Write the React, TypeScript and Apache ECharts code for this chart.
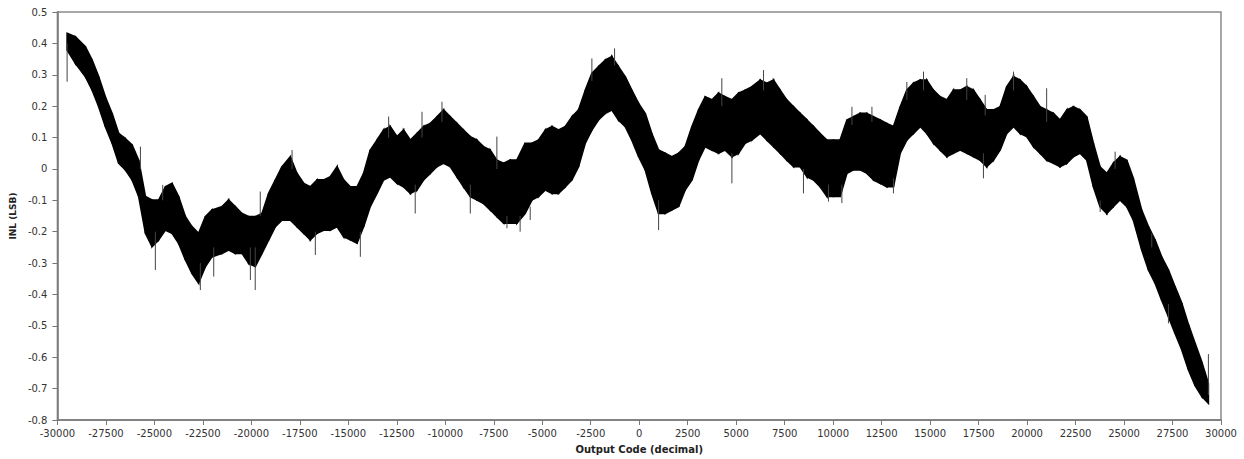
import React, { useEffect, useRef } from "react";
import * as echarts from "echarts";

// Output code (decimal) at which the INL band was read
const codes = [
  -29500, -29070, -28560, -28210, -27870, -27530, -27180, -26840, -26500, -26150,
  -25810, -25460, -25120, -24780, -24430, -24090, -23750, -23400, -23060, -22720,
  -22370, -22030, -21510, -21170, -20830, -20480, -20140, -19800, -19450, -19110,
  -18760, -18420, -17990, -17650, -17300, -16960, -16610, -16270, -15930, -15580,
  -15240, -14900, -14550, -14210, -13870, -13520, -13180, -12840, -12490, -12150,
  -11800, -11460, -11120, -10770, -10430, -10090, -9740, -9400, -9060, -8710,
  -8370, -8030, -7680, -7340, -6990, -6650, -6310, -5880, -5530, -5190,
  -4840, -4500, -4160, -3810, -3470, -3130, -2780, -2440, -2100, -1750,
  -1410, -1070, -720, -380, -30, 310, 650, 1000, 1340, 1680,
  2030, 2370, 2720, 3060, 3400, 3750, 4090, 4430, 4780, 5120,
  5460, 5810, 6240, 6580, 6930, 7270, 7610, 7960, 8300, 8650,
  8990, 9330, 9680, 10020, 10360, 10710, 11050, 11390, 11740, 12080,
  12430, 12770, 13110, 13460, 13800, 14140, 14490, 14830, 15170, 15520,
  15860, 16200, 16550, 16890, 17240, 17580, 17920, 18270, 18610, 18950,
  19300, 19640, 19980, 20330, 20670, 21010, 21360, 21700, 22050, 22390,
  22730, 23080, 23420, 23760, 24110, 24450, 24790, 25140, 25480, 25910,
  26260, 26600, 26940, 27290, 27630, 27980, 28320, 28660, 29010, 29350,
];

// Upper edge of the INL band (LSB)
const upper = [
  0.432, 0.421, 0.39, 0.347, 0.294, 0.23, 0.177, 0.113, 0.097, 0.077,
  0.028, -0.088, -0.099, -0.099, -0.057, -0.046, -0.088, -0.152, -0.184, -0.205,
  -0.152, -0.131, -0.12, -0.099, -0.12, -0.142, -0.152, -0.152, -0.142, -0.078,
  -0.035, 0.007, 0.039, -0.014, -0.046, -0.057, -0.035, -0.035, -0.025, 0.007,
  -0.035, -0.057, -0.057, -0.014, 0.06, 0.092, 0.124, 0.135, 0.103, 0.124,
  0.092, 0.113, 0.135, 0.145, 0.166, 0.188, 0.166, 0.145, 0.124, 0.103,
  0.092, 0.071, 0.06, 0.028, 0.018, 0.028, 0.028, 0.082, 0.082, 0.092,
  0.124, 0.135, 0.124, 0.135, 0.166, 0.188, 0.251, 0.305, 0.326, 0.347,
  0.358, 0.326, 0.294, 0.251, 0.209, 0.177, 0.113, 0.06, 0.05, 0.039,
  0.05, 0.071, 0.135, 0.188, 0.23, 0.22, 0.241, 0.23, 0.22, 0.241,
  0.251, 0.262, 0.283, 0.273, 0.283, 0.251, 0.22, 0.198, 0.177, 0.156,
  0.135, 0.113, 0.092, 0.092, 0.092, 0.156, 0.166, 0.177, 0.177, 0.166,
  0.156, 0.145, 0.135, 0.198, 0.251, 0.273, 0.283, 0.283, 0.251, 0.23,
  0.22, 0.251, 0.251, 0.262, 0.251, 0.22, 0.188, 0.188, 0.198, 0.262,
  0.294, 0.283, 0.262, 0.23, 0.198, 0.188, 0.177, 0.156, 0.188, 0.198,
  0.188, 0.166, 0.082, 0.007, -0.014, 0.018, 0.039, 0.028, -0.03, -0.131,
  -0.184, -0.226, -0.28, -0.322, -0.375, -0.428, -0.495, -0.555, -0.615, -0.683,
];

// Lower edge of the INL band (LSB)
const lower = [
  0.379, 0.336, 0.294, 0.251, 0.198, 0.135, 0.082, 0.018, -0.003, -0.035,
  -0.088, -0.205, -0.248, -0.226, -0.195, -0.205, -0.237, -0.29, -0.333, -0.364,
  -0.311, -0.28, -0.269, -0.258, -0.269, -0.269, -0.301, -0.311, -0.269, -0.227,
  -0.184, -0.163, -0.163, -0.184, -0.205, -0.226, -0.205, -0.195, -0.195, -0.184,
  -0.216, -0.226, -0.237, -0.184, -0.12, -0.078, -0.035, -0.025, -0.046, -0.057,
  -0.078, -0.067, -0.035, -0.014, 0.007, 0.018, 0.007, -0.025, -0.057, -0.088,
  -0.099, -0.11, -0.131, -0.152, -0.173, -0.173, -0.173, -0.142, -0.099, -0.088,
  -0.067, -0.078, -0.078, -0.057, -0.035, 0.007, 0.082, 0.124, 0.156, 0.177,
  0.188, 0.156, 0.135, 0.092, 0.039, -0.003, -0.078, -0.142, -0.142, -0.131,
  -0.12, -0.067, -0.035, 0.028, 0.071, 0.06, 0.05, 0.06, 0.039, 0.05,
  0.082, 0.092, 0.113, 0.092, 0.071, 0.05, 0.028, 0.007, 0.007, -0.025,
  -0.035, -0.057, -0.088, -0.088, -0.088, -0.014, -0.003, -0.003, -0.014, -0.035,
  -0.046, -0.057, -0.057, 0.05, 0.092, 0.113, 0.135, 0.113, 0.082, 0.06,
  0.039, 0.05, 0.06, 0.05, 0.039, 0.028, 0.007, 0.028, 0.06, 0.113,
  0.135, 0.113, 0.103, 0.071, 0.05, 0.028, 0.018, 0.007, 0.018, 0.039,
  0.05, 0.028, -0.057, -0.12, -0.142, -0.12, -0.099, -0.12, -0.163, -0.258,
  -0.322, -0.364, -0.418, -0.471, -0.524, -0.577, -0.64, -0.69, -0.725, -0.747,
];

// Isolated spikes that stick out of the band
const spikeCodes = [
  -29500, -25720, -24950, -24570, -22630, -21940, -20050, -19800, -19540, -17900,
  -16700, -14380, -12920, -11550, -11200, -10170, -8710, -7340, -6820, -6140,
  -5620, -2440, -1270, 1000, 4260, 4780, 6410, 8470, 9760, 10450,
  10970, 12000, 13110, 13800, 14660, 16890, 17750, 17840, 19300, 21010,
  23770, 24540, 26430, 27290, 29350,
];
const spikeBase = [
  0.4, 0.0, -0.2, -0.1, -0.3, -0.25, -0.25, -0.25, -0.15, 0.0,
  -0.2, -0.2, 0.1, -0.05, 0.1, 0.15, -0.05, 0.0, -0.15, -0.15,
  -0.12, 0.28, 0.33, -0.1, 0.2, 0.05, 0.25, 0.0, -0.05, -0.05,
  0.14, 0.15, -0.03, 0.22, 0.25, 0.22, 0.05, 0.17, 0.25, 0.15,
  -0.1, 0.0, -0.25, -0.43, -0.72,
];
const spikeTip = [
  0.278, 0.071, -0.322, -0.051, -0.386, -0.343, -0.354, -0.386, -0.072, 0.06,
  -0.274, -0.28, 0.167, -0.142, 0.182, 0.214, -0.142, 0.103, -0.189, -0.2,
  -0.163, 0.352, 0.384, -0.195, 0.289, -0.046, 0.315, -0.078, -0.104, -0.109,
  0.198, 0.198, -0.078, 0.277, 0.31, 0.289, -0.03, 0.236, 0.31, 0.257,
  -0.137, 0.055, -0.205, -0.492, -0.59,
];

const X_MIN = -30000;
const X_MAX = 30000;
const X_STEP = 2500;
const Y_MIN = -0.8;
const Y_MAX = 0.5;
const Y_STEP = 0.1;

export default function App() {
  const ref = useRef<HTMLDivElement>(null);

  useEffect(() => {
    if (!ref.current) return;
    const chart = echarts.init(ref.current, null, { renderer: "svg" });

    // one item per segment between consecutive readings
    const bandData = codes.slice(0, -1).map((c, i) => [
      c,
      lower[i],
      upper[i],
      codes[i + 1],
      lower[i + 1],
      upper[i + 1],
    ]);
    const spikeData: any[] = [];
    spikeCodes.forEach((c, i) => {
      spikeData.push([c, spikeBase[i]], [c, spikeTip[i]], [c, "-"]);
    });

    const labelStyle = {
      fontFamily: "DejaVu Sans",
      fontSize: 10,
      color: "#333",
    };

    chart.setOption({
      animation: false,
      backgroundColor: "#ffffff",
      grid: {
        left: 57,
        right: 23,
        top: 12,
        bottom: 39,
        show: true,
        borderColor: "#8a8a8a",
        borderWidth: 1.5,
        backgroundColor: "transparent",
      },
      xAxis: {
        type: "value",
        min: X_MIN,
        max: X_MAX,
        interval: X_STEP,
        name: "Output Code (decimal)",
        nameLocation: "middle",
        nameGap: 24,
        nameTextStyle: {
          fontFamily: "DejaVu Sans",
          fontSize: 10,
          fontWeight: "bold",
          color: "#222",
        },
        axisLine: { show: true, onZero: false, lineStyle: { color: "#777", width: 1.5 } },
        axisTick: { show: true, length: 5, lineStyle: { color: "#777" } },
        axisLabel: { ...labelStyle, margin: 8, formatter: (v: number) => String(v) },
        splitLine: { show: false },
      },
      yAxis: {
        type: "value",
        min: Y_MIN,
        max: Y_MAX,
        interval: Y_STEP,
        name: "INL (LSB)",
        nameLocation: "middle",
        nameRotate: 90,
        nameGap: 37,
        nameTextStyle: {
          fontFamily: "DejaVu Sans",
          fontSize: 9,
          fontWeight: "bold",
          color: "#222",
        },
        axisLine: { show: true, onZero: false, lineStyle: { color: "#777", width: 1.5 } },
        axisTick: { show: true, length: 5, lineStyle: { color: "#777" } },
        axisLabel: {
          ...labelStyle,
          margin: 10,
          formatter: (v: number) => String(+v.toFixed(1)),
        },
        splitLine: { show: false },
      },
      series: [
        {
          name: "INL",
          type: "custom",
          data: bandData,
          encode: { x: [0, 3], y: [1, 2, 4, 5] },
          silent: true,
          renderItem: (params: any, api: any) => {
            const p1 = api.coord([api.value(0), api.value(2)]);
            const p2 = api.coord([api.value(3), api.value(5)]);
            const p3 = api.coord([api.value(3), api.value(4)]);
            const p4 = api.coord([api.value(0), api.value(1)]);
            return {
              type: "polygon",
              shape: { points: [p1, p2, p3, p4] },
              style: { fill: "#000", stroke: "#000", lineWidth: 1.6 },
            };
          },
        },
        {
          name: "spikes",
          type: "line",
          data: spikeData,
          connectNulls: false,
          showSymbol: false,
          symbol: "none",
          lineStyle: { color: "#444", width: 1 },
          silent: true,
        },
      ],
    });

    return () => {
      chart.dispose();
    };
  }, []);

  return (
    <div
      ref={ref}
      style={{ position: "fixed", left: 0, top: 0, width: "1244px", height: "459px" }}
    />
  );
}
